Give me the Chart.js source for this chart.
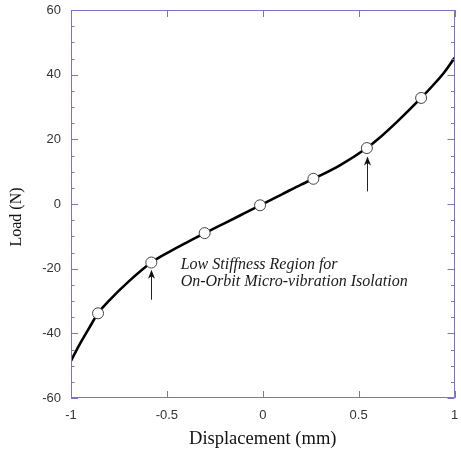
<!DOCTYPE html>
<html>
<head>
<meta charset="utf-8">
<script src="https://cdn.jsdelivr.net/npm/chart.js@4.4.0/dist/chart.umd.min.js"></script>
<style>
html,body{margin:0;padding:0;background:#fff;}
#wrap{width:461px;height:458px;position:relative;}
</style>
</head>
<body>
<div id="wrap"><canvas id="c" width="461" height="458"></canvas></div>
<script>
// Curve (load-displacement)
const curveX = [-1, -0.95, -0.9, -0.859, -0.8, -0.7, -0.581, -0.5, -0.4, -0.303, -0.2, -0.1, -0.014, 0.1, 0.2, 0.264, 0.4, 0.543, 0.6, 0.7, 0.826, 0.9, 0.95, 1];
const curveY = [-48.5, -42.9, -37.8, -33.8, -29.8, -24.0, -18.1, -15.2, -12.0, -9.0, -6.0, -3.0, -0.4, 3.0, 6.0, 7.8, 11.9, 17.3, 20.0, 25.4, 32.8, 37.5, 41.0, 45.2];
// Marker circles
const markerX = [-0.859, -0.581, -0.303, -0.014, 0.264, 0.543, 0.826];
const markerY = [-33.8, -18.1, -9.0, -0.4, 7.8, 17.3, 32.8];
// Axis ticks
const xTicks = [-1, -0.5, 0, 0.5, 1];
const yTicks = [-60, -40, -20, 0, 20, 40, 60];
const xTitle = 'Displacement (mm)';
const yTitle = 'Load (N)';
// Annotation
const noteLines = ['Low Stiffness Region for', 'On-Orbit Micro-vibration Isolation'];
const noteAnchor = {x: -0.428, y: -20.0};
const arrows = [
  {x: -0.581, from: -29.6, to: -20.3},
  {x: 0.543, from: 3.9, to: 14.7}
];

const frameColor = '#7b72c9';
const curveData = curveX.map((x, i) => ({x, y: curveY[i]}));
const markerData = markerX.map((x, i) => ({x, y: markerY[i]}));

const framePlugin = {
  id: 'frame',
  afterDatasetsDraw(chart) {
    const {ctx, chartArea: a, scales: {x, y}} = chart;
    ctx.save();
    ctx.strokeStyle = frameColor;
    ctx.lineWidth = 1;
    ctx.beginPath();
    ctx.rect(Math.round(a.left) + 0.5, Math.round(a.top) + 0.5, Math.round(a.right - a.left) - 1, Math.round(a.bottom - a.top) - 1);
    ctx.stroke();
    ctx.beginPath();
    xTicks.forEach(v => {
      const px = Math.round(x.getPixelForValue(v)) + 0.5;
      ctx.moveTo(px, a.bottom); ctx.lineTo(px, a.bottom - 7);
      ctx.moveTo(px, a.top); ctx.lineTo(px, a.top + 7);
    });
    for (let v = -60; v <= 60; v += 5) {
      const py = Math.round(y.getPixelForValue(v)) + 0.5;
      const len = (v % 20 === 0) ? 7 : 3.5;
      ctx.moveTo(a.left, py); ctx.lineTo(a.left + len, py);
      ctx.moveTo(a.right, py); ctx.lineTo(a.right - len, py);
    }
    ctx.stroke();
    ctx.restore();
  },
  afterDraw(chart) {
    const {ctx, chartArea: a, scales: {x, y}} = chart;
    ctx.save();
    ctx.strokeStyle = '#222';
    ctx.fillStyle = '#111';
    ctx.lineWidth = 1;
    arrows.forEach(ar => {
      const px = Math.round(x.getPixelForValue(ar.x)) + 0.5;
      const y0 = y.getPixelForValue(ar.from);
      const y1 = y.getPixelForValue(ar.to);
      ctx.beginPath();
      ctx.moveTo(px, y0); ctx.lineTo(px, y1 + 6);
      ctx.stroke();
      ctx.beginPath();
      ctx.moveTo(px, y1);
      ctx.lineTo(px - 3.5, y1 + 9);
      ctx.lineTo(px, y1 + 6.5);
      ctx.lineTo(px + 3.5, y1 + 9);
      ctx.closePath();
      ctx.fill();
    });
    ctx.fillStyle = '#1a1a1a';
    ctx.font = 'italic 16px "Liberation Serif", "DejaVu Serif", serif';
    ctx.textAlign = 'left';
    ctx.textBaseline = 'alphabetic';
    const tx = x.getPixelForValue(noteAnchor.x);
    const ty = y.getPixelForValue(noteAnchor.y);
    noteLines.forEach((t, i) => ctx.fillText(t, tx, ty + i * 17));
    // y-axis title (rotated)
    ctx.fillStyle = '#111';
    ctx.font = '16px "Liberation Serif", "Times New Roman", serif';
    ctx.textAlign = 'center';
    ctx.textBaseline = 'middle';
    ctx.translate(17, (a.top + a.bottom) / 2 + 13);
    ctx.rotate(-Math.PI / 2);
    ctx.fillText(yTitle, 0, 0);
    ctx.restore();
  }
};

new Chart(document.getElementById('c'), {
  type: 'scatter',
  data: {
    datasets: [
      {
        data: curveData,
        showLine: true,
        borderColor: '#000',
        borderWidth: 2.6,
        pointRadius: 0,
        cubicInterpolationMode: 'monotone',
        order: 2
      },
      {
        data: markerData,
        showLine: false,
        pointRadius: 5.5,
        pointBackgroundColor: '#fff',
        pointBorderColor: '#444',
        pointBorderWidth: 1,
        order: 1
      }
    ]
  },
  options: {
    responsive: false,
    animation: false,
    devicePixelRatio: 1,
    layout: {padding: {top: 10, right: 3, left: 0, bottom: 0}},
    plugins: {legend: {display: false}, tooltip: {enabled: false}},
    scales: {
      x: {
        type: 'linear', min: -1, max: 1,
        afterBuildTicks: s => { s.ticks = xTicks.map(v => ({value: v})); },
        afterFit: s => { s.height = 60; s.paddingLeft = 0; s.paddingRight = 0; },
        grid: {display: false, drawTicks: false},
        border: {display: false},
        ticks: {
          padding: 10, color: '#333', maxRotation: 0,
          font: {family: '"Liberation Sans", Arial, sans-serif', size: 13},
          callback: v => String(v)
        },
        title: {
          display: true, text: xTitle, color: '#111',
          font: {family: '"Liberation Serif", "Times New Roman", serif', size: 18.5},
          padding: {top: 0, bottom: 8}
        }
      },
      y: {
        type: 'linear', min: -60, max: 60,
        afterBuildTicks: s => { s.ticks = yTicks.map(v => ({value: v})); },
        afterFit: s => { s.width = 71; s.paddingTop = 0; s.paddingBottom = 0; },
        grid: {display: false, drawTicks: false},
        border: {display: false},
        ticks: {
          padding: 10, color: '#333',
          font: {family: '"Liberation Sans", Arial, sans-serif', size: 13},
          callback: v => String(v)
        },
        title: {display: false}
      }
    }
  },
  plugins: [framePlugin]
});
</script>
</body>
</html>
